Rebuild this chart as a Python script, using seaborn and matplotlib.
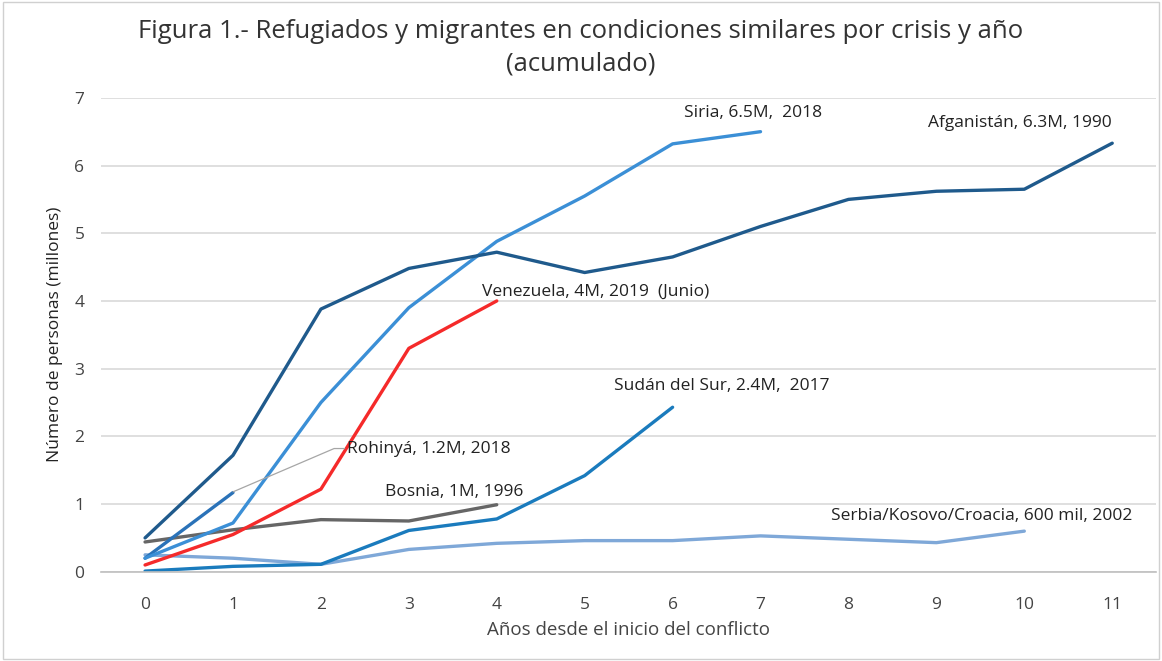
import numpy as np
import pandas as pd
import matplotlib
matplotlib.use('Agg')
import matplotlib.pyplot as plt
import seaborn as sns

# ========================================
# Datos (millones de personas, acumulado)
# ========================================
years = list(range(12))

afganistan = [0.50, 1.72, 3.88, 4.48, 4.72, 4.42, 4.65, 5.10, 5.50, 5.62, 5.65, 6.33]
siria = [0.20, 0.72, 2.50, 3.90, 4.88, 5.55, 6.32, 6.50]
venezuela = [0.10, 0.55, 1.22, 3.30, 4.00]
rohinya = [0.20, 1.17]
bosnia = [0.44, 0.62, 0.77, 0.75, 0.99]
sudan = [0.01, 0.08, 0.11, 0.61, 0.78, 1.42, 2.43]
serbia = [0.25, 0.20, 0.11, 0.33, 0.42, 0.46, 0.46, 0.53, 0.48, 0.43, 0.60]

series = {
    'Serbia': serbia,
    'Sudán': sudan,
    'Bosnia': bosnia,
    'Rohinyá': rohinya,
    'Venezuela': venezuela,
    'Siria': siria,
    'Afganistán': afganistan,
}

palette = {
    'Afganistán': '#1f5a8c',
    'Siria': '#3b8fd6',
    'Venezuela': '#f52a2a',
    'Rohinyá': '#2a72b8',
    'Bosnia': '#666666',
    'Sudán': '#1a7bbd',
    'Serbia': '#7fa8d8',
}

rows = []
for name, vals in series.items():
    for x, v in zip(years, vals):
        rows.append({'anio': x, 'valor': v, 'crisis': name})
df = pd.DataFrame(rows)

# ========================================
# Figura
# ========================================
sns.set_theme(style='white')
plt.rcParams['font.family'] = ['Open Sans', 'DejaVu Sans']

fig, ax = plt.subplots(figsize=(11.62, 6.61), dpi=100)
fig.subplots_adjust(left=0.087, right=0.995, top=0.852, bottom=0.135)

sns.lineplot(data=df, x='anio', y='valor', hue='crisis', palette=palette,
             hue_order=list(series.keys()), linewidth=2.4, legend=False,
             estimator=None, ax=ax)

ax.set_xlim(-0.5, 11.5)
ax.set_ylim(0, 7)
ax.set_xticks(years)
ax.set_yticks(range(8))
ax.tick_params(axis='both', labelsize=12.5, colors='#444444', length=0)
ax.tick_params(axis='x', pad=18)
ax.tick_params(axis='y', pad=12)
ax.yaxis.grid(True, color='#d9d9d9', linewidth=1.2)
for s in ['top', 'right', 'left']:
    ax.spines[s].set_visible(False)
ax.spines['bottom'].set_color('#bfbfbf')
ax.spines['bottom'].set_linewidth(1.2)

ax.set_xlabel('Años desde el inicio del conflicto', fontsize=13.5, color='#444444', labelpad=6)
ax.set_ylabel('Número de personas (millones)', fontsize=12.5, color='#222222', labelpad=8)

fig.suptitle('Figura 1.- Refugiados y migrantes en condiciones similares por crisis y año\n(acumulado)',
             fontsize=18.5, color='#333333', y=0.972, linespacing=1.4)

# Etiquetas de las series
lbl = dict(fontsize=12.5, color='#222222')
ax.text(6.92, 6.78, 'Siria, 6.5M,  2018', ha='center', va='center', **lbl)
ax.text(9.95, 6.63, 'Afganistán, 6.3M, 1990', ha='center', va='center', **lbl)
ax.text(3.83, 4.14, 'Venezuela, 4M, 2019  (Junio)', ha='left', va='center', **lbl)
ax.text(6.56, 2.75, 'Sudán del Sur, 2.4M,  2017', ha='center', va='center', **lbl)
ax.text(2.30, 1.82, 'Rohinyá, 1.2M, 2018', ha='left', va='center', **lbl)
ax.text(3.52, 1.18, 'Bosnia, 1M, 1996', ha='center', va='center', **lbl)
ax.text(9.52, 0.82, 'Serbia/Kosovo/Croacia, 600 mil, 2002', ha='center', va='center', **lbl)

# Línea guía de Rohinyá
ax.plot([1.0, 2.15, 2.27], [1.18, 1.82, 1.82], color='#a6a6a6', linewidth=0.9)

# Marco exterior
fig.patches.append(plt.Rectangle((0.003, 0.003), 0.994, 0.994, transform=fig.transFigure,
                                 fill=False, edgecolor='#d0d0d0', linewidth=1.0))

plt.savefig('out.png', dpi=100)
plt.close()
